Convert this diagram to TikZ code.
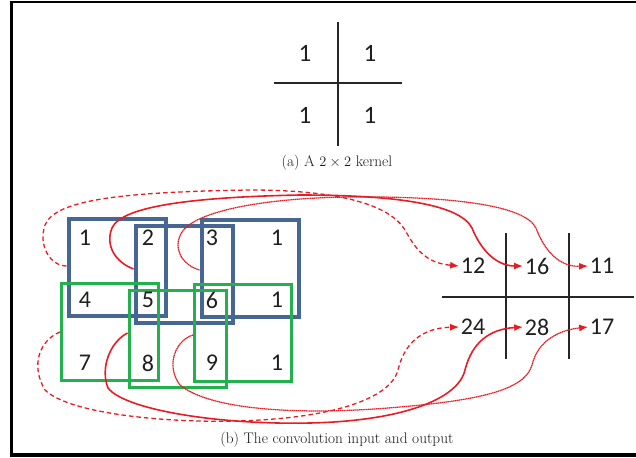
\documentclass[tikz,border=0pt]{standalone}
\usepackage{fontspec}
\newfontfamily\numfont{Carlito}
\usetikzlibrary{arrows.meta,calc}
\definecolor{boxblue}{RGB}{70,102,148}
\definecolor{boxgreen}{RGB}{34,177,76}
\definecolor{arrred}{RGB}{232,28,36}
\definecolor{capgray}{RGB}{25,25,25}
\begin{document}
\begin{tikzpicture}[x=1pt,y=-1pt,
  num/.style={font=\numfont\fontsize{24}{24}\selectfont, inner sep=1.5pt, text=black!88},
  knum/.style={font=\numfont\fontsize{25}{25}\selectfont, inner sep=1.5pt, text=black!88},
  bbox/.style={draw=boxblue, line width=4pt, minimum width=97pt, minimum height=97pt, inner sep=0pt},
  gbox/.style={draw=boxgreen, line width=3pt, minimum width=97pt, minimum height=97pt, inner sep=0pt},
  gridline/.style={line width=1.8pt, draw=black!85},
  caption/.style={font=\fontsize{15.3}{18}\selectfont, text=capgray, inner sep=0pt},
  conn/.style={draw=arrred, -{Latex[length=9pt,width=7pt]}},
  dashconn/.style={conn, line width=1.3pt, dash pattern=on 4.5pt off 3pt},
  solidconn/.style={conn, line width=1.6pt},
  dotconn/.style={conn, line width=1.25pt, dash pattern=on 1.4pt off 0.5pt}
]
\useasboundingbox (0,0) rectangle (636,457);
% frame
\draw[line width=2.6pt] (636,2) -- (11.3,2) -- (11.3,455);
\draw[line width=4pt] (9.5,454.5) -- (636,454.5);

% kernel
\node[knum] (k11) at (305,53) {1};
\node[knum] (k12) at (370,53) {1};
\node[knum] (k21) at (305,115) {1};
\node[knum] (k22) at (370,115) {1};
\draw[gridline] (338,22) -- (338,146);
\draw[gridline] (274,83) -- (402,83);
\node[caption] (capa) at (337,163) {(a) A $2\times2$ kernel};

% input boxes
\node[bbox] (b1) at (117,267) {};
\node[bbox] (b2) at (184,274) {};
\node[bbox] (b3) at (250,268) {};
\node[gbox] (g1) at (110,332) {};
\node[gbox] (g2) at (177.5,339) {};
\node[gbox] (g3) at (243,333) {};

% input numbers
\node[num] (i1) at (85,238) {1};
\node[num] (i2) at (148,238) {2};
\node[num] (i3) at (212,238) {3};
\node[num] (i4) at (277,238) {1};
\node[num] (i5) at (85,300) {4};
\node[num] (i6) at (148,300) {5};
\node[num] (i7) at (212,300) {6};
\node[num] (i8) at (277,300) {1};
\node[num] (i9) at (85,363) {7};
\node[num] (i10) at (148,363) {8};
\node[num] (i11) at (212,363) {9};
\node[num] (i12) at (277,363) {1};

% output
\node[num] (o12) at (473,266) {12};
\node[num] (o16) at (537,266) {16};
\node[num] (o11) at (602,266) {11};
\node[num] (o24) at (473,327) {24};
\node[num] (o28) at (537,327) {28};
\node[num] (o17) at (602,327) {17};
\draw[gridline] (506,233) -- (506,359);
\draw[gridline] (569,233) -- (569,359);
\draw[gridline] (442,297) -- (634,297);

\node[caption] (capb) at (337,440) {(b) The convolution input and output};

% top connectors
\draw[dashconn] ([yshift=1pt]b1.west) .. controls (50,266) and (38,245) .. (45,225)
  .. controls (55,200) and (120,192) .. (250,190)
  .. controls (340,190) and (390,205) .. (405,230)
  .. controls (415,248) and (425,263) .. (o12.west);
\draw[solidconn] ([yshift=5pt]b2.west) .. controls (115,262) and (105,245) .. (112,228)
  .. controls (122,205) and (200,197) .. (300,195)
  .. controls (400,195) and (460,205) .. (472,228)
  .. controls (480,248) and (495,266) .. (o16.west);
\draw[dotconn] ([yshift=-2pt]b3.west) .. controls (182,265) and (172,248) .. (182,232)
  .. controls (195,212) and (260,198) .. (350,197)
  .. controls (450,196) and (525,205) .. (536,228)
  .. controls (545,252) and (560,267) .. (o11.west);

% bottom connectors
\draw[dashconn] (g1.west) .. controls (40,340) and (30,365) .. (45,390)
  .. controls (70,415) and (180,425) .. (260,420)
  .. controls (330,416) and (390,400) .. (398,370)
  .. controls (404,345) and (420,328) .. (o24.west);
\draw[solidconn] ([yshift=6pt]g2.west) .. controls (110,342) and (100,368) .. (108,388)
  .. controls (125,410) and (220,425) .. (310,423)
  .. controls (400,421) and (458,400) .. (465,370)
  .. controls (472,342) and (490,329) .. (o28.west);
\draw[dotconn] ([yshift=-2pt]g3.west) .. controls (176,340) and (165,365) .. (180,385)
  .. controls (210,410) and (300,416) .. (400,407)
  .. controls (480,400) and (525,390) .. (532,365)
  .. controls (538,340) and (560,330) .. (o17.west);
\end{tikzpicture}
\end{document}
